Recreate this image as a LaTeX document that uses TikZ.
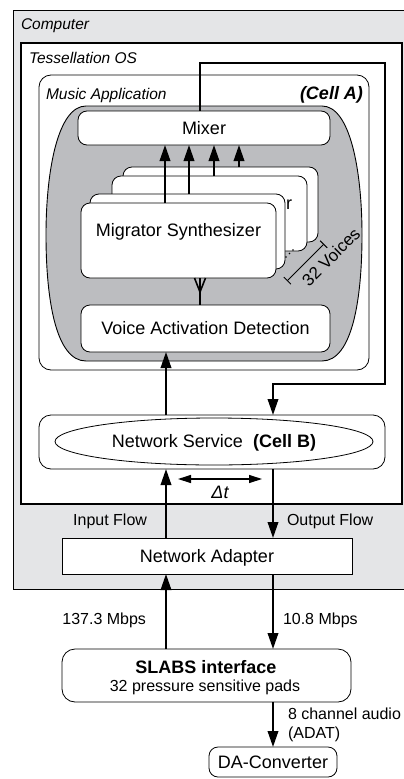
\documentclass[tikz,border=0pt]{standalone}
\usepackage{fontspec}
\setmainfont{Liberation Sans}
\usetikzlibrary{arrows.meta,shapes.geometric}
\definecolor{compbg}{RGB}{228,229,231}
\definecolor{cellgray}{RGB}{188,189,192}
\begin{document}
\begin{tikzpicture}[x=1pt,y=-1pt,
  big/.style={font=\fontsize{18}{20}\selectfont},
  small/.style={font=\fontsize{16}{18}\selectfont},
  ital/.style={font=\fontsize{15.5}{18}\selectfont\itshape},
  txt/.style={inner sep=0pt, outer sep=0pt},
  boxw/.style={draw, fill=white, line width=0.8pt, inner sep=0pt, outer sep=0pt,
    rounded corners=9pt, big, text height=12.9pt, text depth=0pt},
  conn/.style={line width=2pt, -{Triangle[length=16pt,width=10.5pt]}},
  plain/.style={line width=2pt},
  dimline/.style={line width=1pt},
]
\useasboundingbox (0,0) rectangle (404,779);

% containers
\draw[fill=compbg, line width=0.9pt] (13,10) rectangle (410,589);
\node[txt, ital, anchor=base west] (lcomp) at (21,29) {Computer};
\draw[fill=white, line width=1.1pt] (21,43) rectangle (402,504);
\node[txt, ital, anchor=base west] (ltess) at (29,63) {Tessellation OS};
\draw[line width=0.8pt, rounded corners=12pt] (39,75) rectangle (369,370);
\node[txt, ital, anchor=base west] (lmusic) at (46,99) {Music Application};
\node[txt, big, font=\fontsize{18}{20}\selectfont\bfseries\itshape, anchor=base east] (lcella) at (363,99) {(Cell A)};

% cell A gray region
\draw[fill=cellgray, line width=0.9pt]
  (86,106) -- (322,106)
  .. controls (350,106) and (362,170) .. (362,235)
  .. controls (362,300) and (352,361) .. (322,361)
  -- (86,361)
  .. controls (56,361) and (46,300) .. (46,235)
  .. controls (46,170) and (58,106) .. (86,106) -- cycle;

% nodes
\node[boxw, minimum width=252pt, minimum height=34pt] (mixer) at (204,128) {Mixer};
\node[boxw, minimum width=195pt, minimum height=75pt] (b4) at (220.5,204.5) {};
\node[boxw, minimum width=195pt, minimum height=75pt] (b3) at (209.5,213.5) {};
\node[txt, big, anchor=base] (t3) at (209.5,209) {Migrator Synthesizer};
\node[boxw, minimum width=195pt, minimum height=75pt] (b2) at (187.5,231.5) {};
\node[boxw, minimum width=195pt, minimum height=75pt] (b1) at (178.5,240.5) {};
\node[txt, big, anchor=base] (t1) at (178.5,236) {Migrator Synthesizer};
\node[boxw, minimum width=249pt, minimum height=47pt] (vad) at (205.5,328.5) {Voice Activation Detection};

\node[boxw, rounded corners=12pt, minimum width=346pt, minimum height=54pt] (ns) at (212,442) {};
\node[draw, ellipse, line width=0.8pt, inner sep=0pt, minimum width=318pt, minimum height=47pt,
  big, text height=12.9pt, text depth=0pt] (nsell) at (214,441.5) {Network Service\ \ \textbf{(Cell B)}};

\node[boxw, rounded corners=0pt, minimum width=290pt, minimum height=36pt] (na) at (207,556) {Network Adapter};
\node[boxw, rounded corners=13pt, minimum width=289pt, minimum height=53pt] (slabs) at (206.5,675.5) {};
\node[txt, big, font=\fontsize{18}{20}\selectfont\bfseries, anchor=base] (tslabs) at (206,673) {SLABS interface};
\node[txt, small, anchor=base] (tpads) at (205,691) {32 pressure sensitive pads};
\node[boxw, rounded corners=9pt, minimum width=128pt, minimum height=30pt] (da) at (273,762) {DA-Converter};

% x positions of connectors
\coordinate (ax1) at (165,0);
\coordinate (ax2) at (189,0);
\coordinate (ax3) at (214,0);
\coordinate (ax4) at (239,0);
\coordinate (xm) at (200,0);
\coordinate (xl) at (166,0);
\coordinate (xr) at (273,0);

% voices to mixer
\draw[conn] (b1.north -| ax1) -- (mixer.south -| ax1);
\draw[conn] (b2.north -| ax2) -- (mixer.south -| ax2);
\draw[conn] (b3.north -| ax3) -- (mixer.south -| ax3);
\draw[conn] (b4.north -| ax4) -- (mixer.south -| ax4);

% VAD to voices (fan)
\draw[plain] (b1.south -| xm) -- (vad.north -| xm);
\draw[line width=1.6pt] (b1.south -| xm) ++(-5.5,0) -- ++(5.5,14) -- ++(5.5,-14);

% 32 voices dimension
\coordinate (dv1) at (287,281);
\coordinate (dv2) at (324,244);
\draw[dimline, {Bar[width=10pt]}-{Bar[width=10pt]}] (dv1) -- (dv2);
\node[txt, font=\fontsize{17}{19}\selectfont, rotate=45] (tv) at (331,257) {32 Voices};
\fill (286,257) circle[radius=0.9pt];
\fill (289.5,253.5) circle[radius=0.9pt];
\fill (293,250) circle[radius=0.9pt];

% network service connections
\draw[conn] (ns.north -| xl) -- (vad.south -| xl);
\draw[conn] (mixer.north -| xm) -- (200,63) -| (385,384) -| (ns.north -| xr);
\draw[conn] (na.north -| xl) -- (ns.south -| xl);
\draw[conn] (ns.south -| xr) -- (na.north -| xr);

% delta t
\coordinate (dt1) at (178,479);
\coordinate (dt2) at (262,479);
\draw[line width=1.2pt, {Triangle[length=13pt,width=8pt]}-{Triangle[length=13pt,width=8pt]}] (dt1) -- (dt2);
\node[txt, big, font=\fontsize{18}{20}\selectfont\itshape, anchor=base] (tdt) at (220,498) {Δt};

\node[txt, small, anchor=base east] (tin) at (147,525) {Input Flow};
\node[txt, small, anchor=base west] (tout) at (287,525) {Output Flow};

% external
\draw[conn] (slabs.north -| xl) -- (na.south -| xl);
\draw[conn] (na.south -| xr) -- (slabs.north -| xr);
\node[txt, small, anchor=base east] (tin2) at (146,624) {137.3 Mbps};
\node[txt, small, anchor=base west] (tout2) at (283,624) {10.8 Mbps};

\draw[conn] (slabs.south -| xr) -- (da.north -| xr);
\node[txt, small, anchor=base west] (tadat1) at (288,719) {8 channel audio};
\node[txt, small, anchor=base west] (tadat2) at (288,738) {(ADAT)};
\end{tikzpicture}
\end{document}
